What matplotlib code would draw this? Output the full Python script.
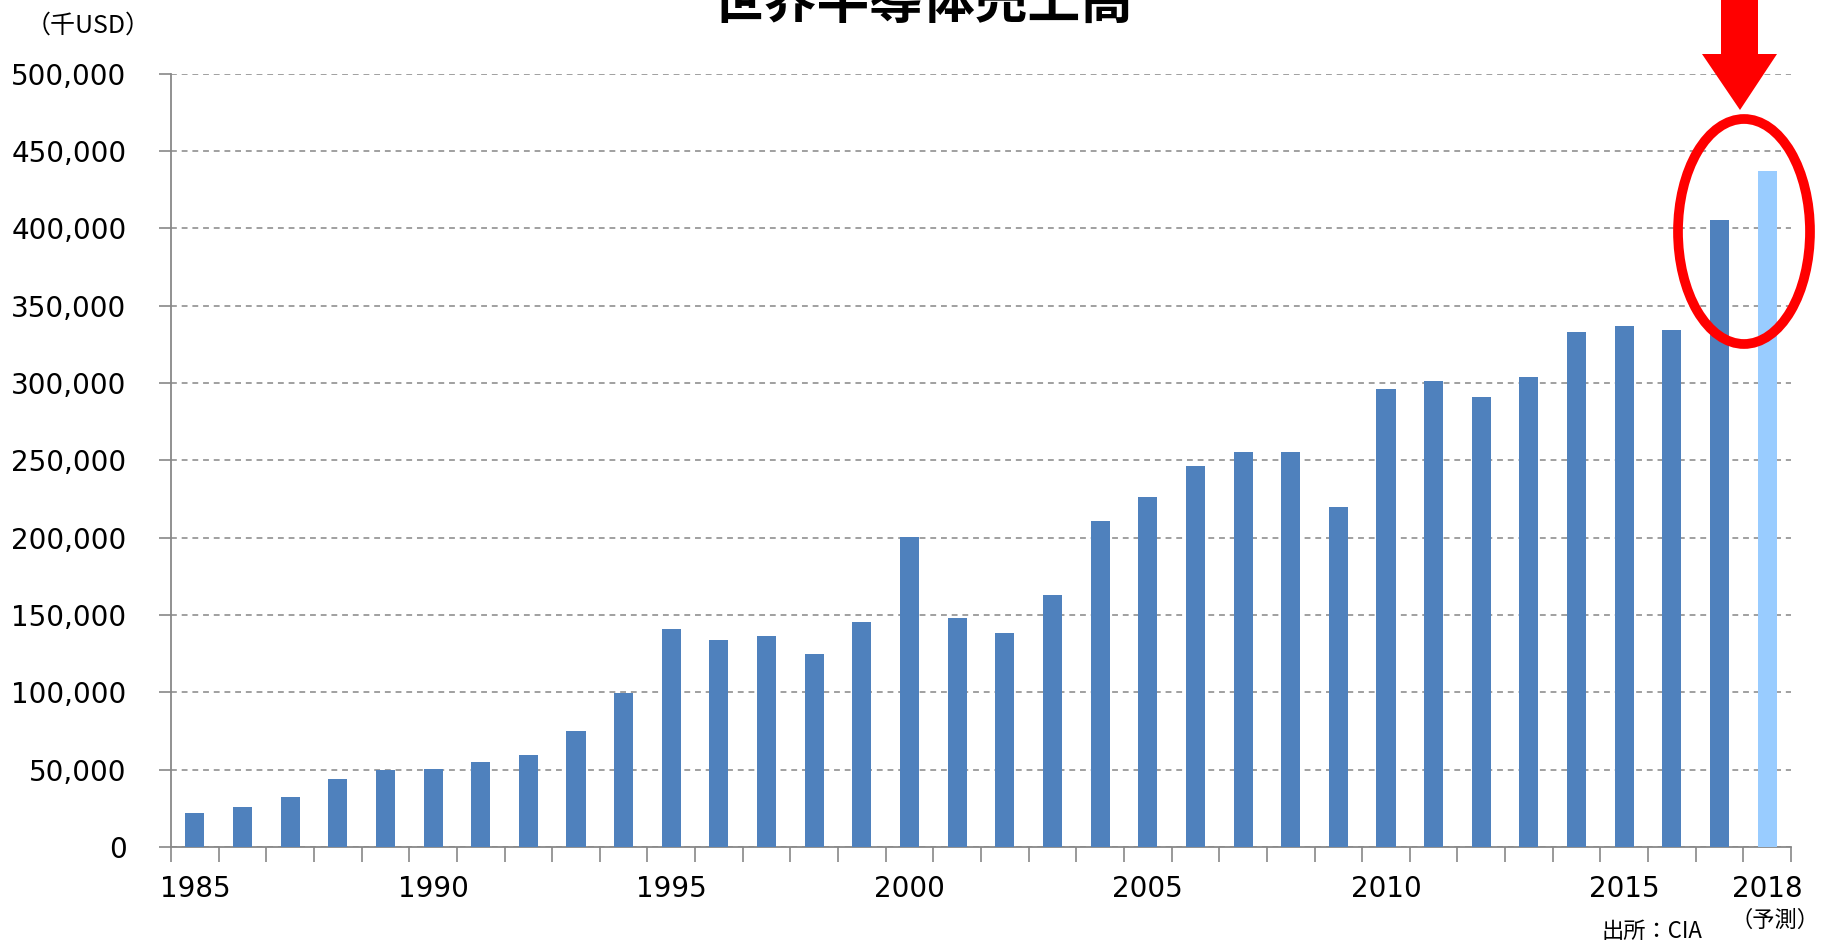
import matplotlib
matplotlib.use("Agg")

import matplotlib.pyplot as plt
from matplotlib.patches import Ellipse, Polygon
from matplotlib.ticker import FuncFormatter

plt.rcParams["font.family"] = ["DejaVu Sans", "Noto Sans CJK JP"]

# データ（千USD）
years = list(range(1985, 2019))
sales = [22000, 26000, 32000, 44000, 50000, 50500, 55000, 59500, 75000, 99500,
         141000, 134000, 136500, 125000, 145500, 200500, 148000, 138500, 163000, 210500,
         226000, 246500, 255500, 255500, 219500, 296000, 301000, 291000, 304000, 333000,
         336500, 334000, 405000, 437000]
forecast_year = 2018
label_years = [1985, 1990, 1995, 2000, 2005, 2010, 2015, 2018]

DARK = "#4F81BD"
LIGHT = "#99CCFF"
GRID = "#A0A0A0"

W, H = 1827, 944
fig = plt.figure(figsize=(W / 100, H / 100), dpi=100)
ax = fig.add_axes([171 / W, 1 - 847 / H, (1791 - 171) / W, (847 - 73.5) / H])

xs = list(range(len(years)))
colors = [LIGHT if y == forecast_year else DARK for y in years]
ax.bar(xs, sales, width=0.4, color=colors, zorder=3)

ax.set_xlim(-0.5, len(years) - 0.5)
ax.set_ylim(0, 500000)

# y軸
ax.set_yticks(range(0, 500001, 50000))
ax.yaxis.set_major_formatter(FuncFormatter(lambda v, p: f"{int(v):,}"))
ax.tick_params(axis="y", length=9, width=1.2, color="#888888", pad=23, labelsize=20)
ax.grid(axis="y", linestyle=(0, (3, 2.5)), color=GRID, linewidth=1.4, zorder=0)

# x軸
ax.set_xticks([years.index(y) for y in label_years])
ax.set_xticklabels([str(y) for y in label_years])
ax.set_xticks([i - 0.5 for i in range(len(years) + 1)], minor=True)
ax.tick_params(axis="x", which="major", length=0, pad=20, labelsize=20)
ax.tick_params(axis="x", which="minor", length=11, width=1.2, color="#888888")

for side in ("top", "right"):
    ax.spines[side].set_visible(False)
for side in ("left", "bottom"):
    ax.spines[side].set_color("#888888")
    ax.spines[side].set_linewidth(1.3)

# テキスト
fig.text(922 / W, 1 - 3 / H, "世界半導体売上高", ha="center", va="center",
         fontsize=38, fontweight="bold", family=["Noto Sans CJK JP"])
fig.text(88 / W, 1 - 26 / H, "（千USD）", ha="center", va="center",
         fontsize=18, family=["Noto Sans CJK JP", "DejaVu Sans"])
fig.text(1775 / W, 1 - 920 / H, "（予測）", ha="center", va="center",
         fontsize=16, family=["Noto Sans CJK JP"])
fig.text(1652 / W, 1 - 931 / H, "出所：CIA", ha="center", va="center",
         fontsize=16, family=["Noto Sans CJK JP"])

# 赤い矢印と楕円
ell = Ellipse((1744 / W, 1 - 231.5 / H), 132 / W, 225 / H, transform=fig.transFigure,
              fill=False, edgecolor="#FF0000", linewidth=7, zorder=5)
fig.patches.append(ell)
arrow_px = [(1721, 0), (1758, 0), (1758, 54), (1777, 54), (1740, 110), (1702, 54), (1721, 54)]
arrow = Polygon([(x / W, 1 - y / H) for x, y in arrow_px], closed=True,
                transform=fig.transFigure, facecolor="#FF0000", edgecolor="none", zorder=5)
fig.patches.append(arrow)

fig.savefig("out.png", dpi=100)
